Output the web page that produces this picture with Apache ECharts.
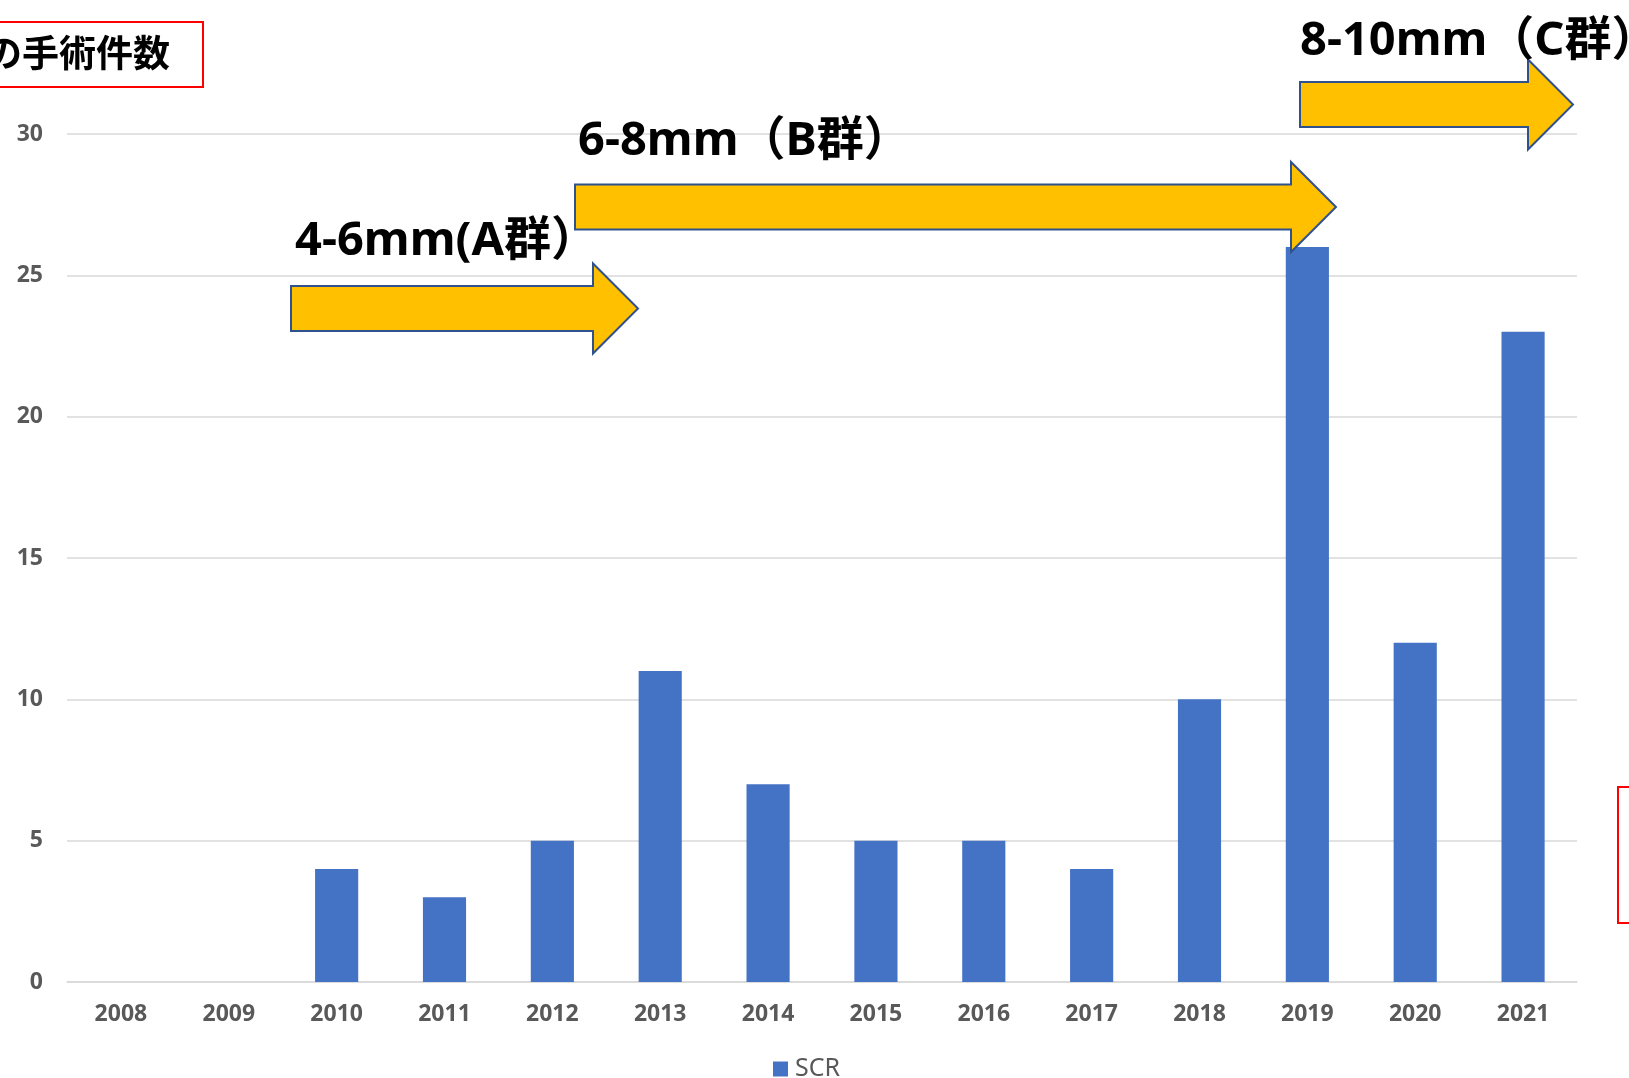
<!DOCTYPE html>
<html>
<head>
<meta charset="utf-8">
<title>SCR 手術件数</title>
<script src="https://cdn.jsdelivr.net/npm/echarts@6/dist/echarts.min.js"></script>
<style>
  html, body { margin: 0; padding: 0; background: #ffffff; }
  #chart { width: 1629px; height: 1078px; }
</style>
</head>
<body>
<div id="chart"></div>
<script>
// Surgery counts per year
const years = ['2008', '2009', '2010', '2011', '2012', '2013', '2014',
               '2015', '2016', '2017', '2018', '2019', '2020', '2021'];
const scrCounts = [0, 0, 4, 3, 5, 11, 7, 5, 5, 4, 10, 26, 12, 23];
const seriesName = 'SCR';

// Value axis ticks
const yMin = 0;
const yMax = 30;
const yStep = 5;

// Period labels (size groups) and the heading
const groupLabels = ['4-6mm(A群）', '6-8mm（B群）', '8-10mm（C群）'];
const headingText = 'の手術件数';

const BIG_FONT = 'bold 47px "Noto Sans", "Noto Sans CJK JP", sans-serif';
const AXIS_FONT_FAMILY = '"Noto Sans", "Noto Sans CJK JP", sans-serif';

// Block arrow: body from x0 to the head, head ends at xTip, centred on yc
function blockArrow(x0, xTip, yc) {
  const bodyHalf = 22.5, headHalf = 45, headLen = 45;
  const xh = xTip - headLen;
  return {
    type: 'polygon',
    z: 10,
    shape: {
      points: [
        [x0, yc - bodyHalf], [xh, yc - bodyHalf], [xh, yc - headHalf],
        [xTip, yc], [xh, yc + headHalf], [xh, yc + bodyHalf], [x0, yc + bodyHalf]
      ]
    },
    style: { fill: '#FFC000', stroke: '#2F528F', lineWidth: 2, lineJoin: 'miter' }
  };
}

function bigLabel(text, x, y) {
  return {
    type: 'text',
    z: 11,
    style: { text: text, x: x, y: y, font: BIG_FONT, fill: '#000000',
             align: 'left', verticalAlign: 'middle' }
  };
}

const chart = echarts.init(document.getElementById('chart'), null, { renderer: 'canvas' });

chart.setOption({
  backgroundColor: '#ffffff',
  animation: false,
  grid: {
    left: 67, right: 52, top: 134, bottom: 96,
    containLabel: false,
    outerBoundsMode: 'none'
  },
  legend: {
    data: [seriesName],
    left: 773,
    top: 1055,
    padding: 0,
    icon: 'rect',
    itemWidth: 15,
    itemHeight: 15,
    itemGap: 10,
    textStyle: { fontSize: 25, lineHeight: 28, color: '#595959', fontFamily: AXIS_FONT_FAMILY, padding: [0, 0, 0, 2] }
  },
  xAxis: {
    type: 'category',
    data: years,
    axisLine: { show: true, lineStyle: { color: '#D9D9D9', width: 1.5 } },
    axisTick: { show: false },
    axisLabel: {
      margin: 21,
      color: '#595959',
      fontSize: 23,
      fontWeight: 'bold',
      fontFamily: AXIS_FONT_FAMILY
    },
    splitLine: { show: false }
  },
  yAxis: {
    type: 'value',
    min: yMin,
    max: yMax,
    interval: yStep,
    axisLine: { show: false },
    axisTick: { show: false },
    axisLabel: {
      margin: 24,
      color: '#595959',
      fontSize: 23,
      fontWeight: 'bold',
      fontFamily: AXIS_FONT_FAMILY
    },
    splitLine: { show: true, lineStyle: { color: '#D9D9D9', width: 1.5 } }
  },
  series: [{
    name: seriesName,
    type: 'bar',
    data: scrCounts,
    barWidth: '40%',
    itemStyle: { color: '#4472C4' },
    silent: true
  }],
  graphic: [
    // heading box at the top left
    {
      type: 'rect',
      z: 10,
      shape: { x: -4, y: 22, width: 207, height: 65 },
      style: { fill: '#ffffff', stroke: '#FF0000', lineWidth: 2 }
    },
    {
      type: 'text',
      z: 11,
      style: { text: headingText, x: -15, y: 53,
               font: 'bold 37px "Noto Sans CJK JP", sans-serif',
               fill: '#000000', align: 'left', verticalAlign: 'middle' }
    },
    // frame at the right edge
    {
      type: 'rect',
      z: 10,
      shape: { x: 1618, y: 787, width: 40, height: 136 },
      style: { fill: 'none', stroke: '#FF0000', lineWidth: 2 }
    },
    // size-group periods
    blockArrow(291, 638, 308.5),
    blockArrow(575, 1336, 207),
    blockArrow(1300, 1573, 104.5),
    bigLabel(groupLabels[0], 295, 242),
    bigLabel(groupLabels[1], 578, 142),
    bigLabel(groupLabels[2], 1300, 42)
  ]
});
</script>
</body>
</html>
